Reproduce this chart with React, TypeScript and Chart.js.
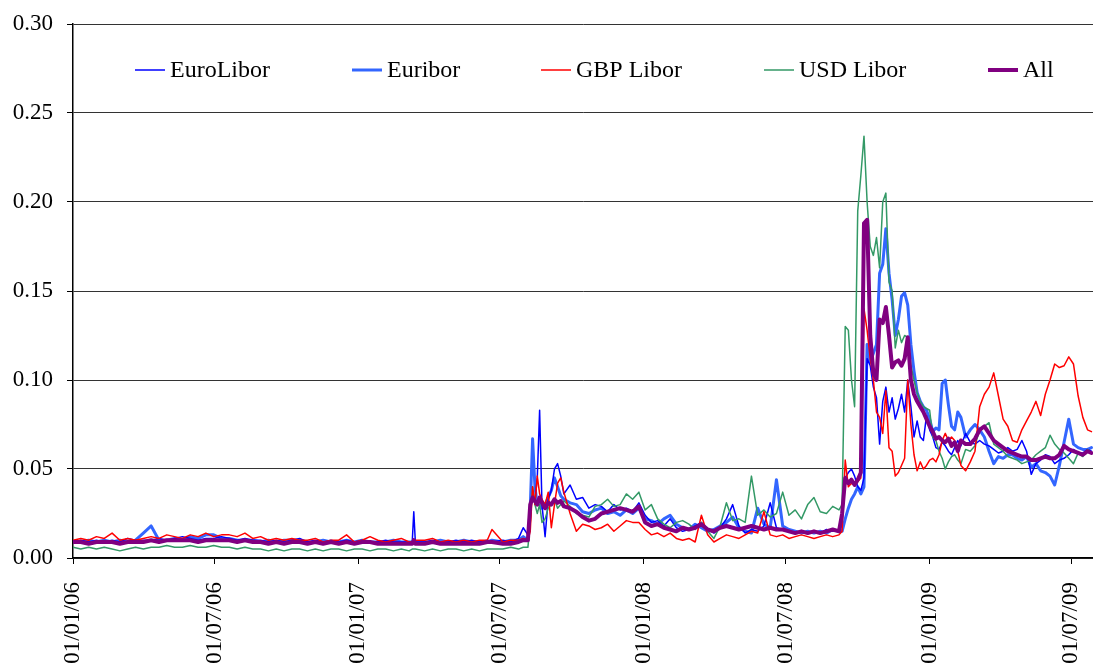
import React, { useEffect, useRef } from "react";
import { Chart, registerables } from "chart.js";

Chart.register(...registerables);

// Observation dates, as days since 01/01/06
const DAY_OFFSETS = [
  0, 10, 20, 30, 40, 50, 60, 70, 80, 90,
  100, 110, 120, 130, 140, 150, 160, 170, 180, 190,
  200, 210, 220, 230, 240, 250, 260, 270, 280, 290,
  300, 310, 320, 330, 340, 350, 360, 370, 380, 390,
  400, 410, 420, 430, 434, 436, 438, 450, 460, 470,
  480, 490, 500, 510, 520, 530, 536, 550, 560, 570,
  576,
  582, 585, 588, 591, 594, 597, 600, 604, 608, 612,
  616, 620, 624, 628, 636, 644, 652, 660, 668, 676,
  684, 692, 700, 708, 716, 724, 732, 740, 748, 756,
  764, 772, 780, 788, 796, 804, 812, 820, 828, 836,
  844, 852, 860, 868, 876, 884, 892, 900, 908, 916,
  924, 932, 940, 948, 956, 964, 972, 980,
  984, 988, 992, 996, 1000, 1004, 1008, 1012, 1016, 1020,
  1024, 1028, 1032, 1036, 1040, 1044, 1048, 1052, 1056, 1060,
  1064, 1068, 1072, 1076, 1080, 1084, 1088, 1092, 1096, 1100,
  1104, 1108, 1112, 1116, 1120, 1124, 1128, 1132, 1136,
  1142, 1148, 1154, 1160, 1166, 1172, 1178, 1184, 1190, 1196,
  1202, 1208, 1214, 1220, 1226, 1232, 1238, 1244, 1250, 1256,
  1262, 1268, 1274, 1280, 1286, 1292, 1298, 1303,
];

const EUROLIBOR = [
  0.009, 0.010, 0.009, 0.010, 0.009, 0.010, 0.009, 0.011, 0.010, 0.010,
  0.010, 0.011, 0.010, 0.011, 0.012, 0.011, 0.010, 0.011, 0.011, 0.012,
  0.011, 0.010, 0.011, 0.010, 0.010, 0.009, 0.010, 0.009, 0.010, 0.011,
  0.009, 0.010, 0.009, 0.010, 0.009, 0.010, 0.009, 0.010, 0.009, 0.009,
  0.010, 0.009, 0.009, 0.009, 0.009, 0.026, 0.009, 0.009, 0.010, 0.009,
  0.009, 0.010, 0.009, 0.010, 0.009, 0.010, 0.009, 0.010, 0.009, 0.011,
  0.017,
  0.013, 0.030, 0.035, 0.032, 0.045, 0.083, 0.030, 0.012, 0.033, 0.038,
  0.050, 0.053, 0.046, 0.036, 0.041, 0.033, 0.034, 0.028, 0.030, 0.029,
  0.026, 0.030, 0.027, 0.028, 0.026, 0.031, 0.024, 0.020, 0.021, 0.018,
  0.022, 0.017, 0.015, 0.016, 0.018, 0.020, 0.016, 0.014, 0.017, 0.022,
  0.030, 0.018, 0.014, 0.016, 0.015, 0.018, 0.031, 0.017, 0.016, 0.015,
  0.014, 0.015, 0.014, 0.015, 0.014, 0.016, 0.015, 0.016,
  0.018, 0.045, 0.048, 0.050, 0.046, 0.040, 0.038, 0.045, 0.112, 0.108,
  0.096, 0.090, 0.064, 0.088, 0.096, 0.082, 0.090, 0.078, 0.084, 0.092,
  0.082, 0.100, 0.085, 0.068, 0.077, 0.068, 0.066, 0.080, 0.072, 0.068,
  0.062, 0.061, 0.065, 0.063, 0.060, 0.058, 0.062, 0.066, 0.063,
  0.070, 0.065, 0.064, 0.066, 0.064, 0.063, 0.061, 0.059, 0.060, 0.062,
  0.060, 0.061, 0.066, 0.060, 0.047, 0.053, 0.055, 0.058, 0.057, 0.053,
  0.055, 0.056, 0.058, 0.061, 0.059, 0.059, 0.061, 0.060,
];

const EURIBOR = [
  0.009, 0.009, 0.010, 0.009, 0.010, 0.009, 0.010, 0.009, 0.010, 0.014,
  0.018, 0.010, 0.010, 0.011, 0.010, 0.012, 0.011, 0.013, 0.013, 0.011,
  0.011, 0.010, 0.010, 0.010, 0.009, 0.010, 0.009, 0.010, 0.010, 0.010,
  0.009, 0.009, 0.010, 0.009, 0.009, 0.010, 0.009, 0.010, 0.009, 0.009,
  0.009, 0.010, 0.009, 0.009, 0.009, 0.009, 0.009, 0.009, 0.009, 0.010,
  0.009, 0.009, 0.010, 0.009, 0.009, 0.009, 0.010, 0.009, 0.010, 0.010,
  0.012,
  0.010, 0.028, 0.067, 0.040, 0.030, 0.034, 0.028, 0.030, 0.034, 0.038,
  0.045, 0.040, 0.035, 0.033, 0.031, 0.030, 0.026, 0.025, 0.027, 0.028,
  0.025, 0.026, 0.024, 0.027, 0.025, 0.028, 0.022, 0.021, 0.019, 0.022,
  0.024, 0.019, 0.017, 0.016, 0.019, 0.017, 0.015, 0.016, 0.018, 0.020,
  0.023, 0.017, 0.015, 0.014, 0.028, 0.019, 0.017, 0.044, 0.018, 0.016,
  0.015, 0.014, 0.015, 0.014, 0.015, 0.014, 0.016, 0.015,
  0.015, 0.022, 0.028, 0.033, 0.036, 0.040, 0.036, 0.040, 0.120, 0.110,
  0.115, 0.120, 0.160, 0.165, 0.185, 0.160, 0.145, 0.125, 0.134, 0.147,
  0.149, 0.142, 0.120, 0.105, 0.093, 0.088, 0.085, 0.083, 0.078, 0.071,
  0.073, 0.072, 0.098, 0.100, 0.086, 0.074, 0.072, 0.082, 0.079,
  0.068, 0.072, 0.075, 0.072, 0.068, 0.060, 0.053, 0.057, 0.056, 0.058,
  0.058, 0.056, 0.055, 0.057, 0.051, 0.053, 0.049, 0.048, 0.046, 0.041,
  0.052, 0.065, 0.078, 0.064, 0.062, 0.061, 0.061, 0.062,
];

const GBP_LIBOR = [
  0.010, 0.011, 0.010, 0.012, 0.011, 0.014, 0.010, 0.011, 0.010, 0.011,
  0.012, 0.011, 0.013, 0.012, 0.011, 0.013, 0.012, 0.014, 0.012, 0.013,
  0.013, 0.012, 0.014, 0.011, 0.012, 0.010, 0.011, 0.010, 0.011, 0.010,
  0.010, 0.011, 0.009, 0.010, 0.010, 0.013, 0.009, 0.010, 0.012, 0.010,
  0.009, 0.010, 0.011, 0.009, 0.009, 0.009, 0.010, 0.010, 0.011, 0.009,
  0.010, 0.009, 0.010, 0.009, 0.010, 0.010, 0.016, 0.009, 0.010, 0.010,
  0.011,
  0.010, 0.015, 0.040, 0.030, 0.046, 0.036, 0.033, 0.030, 0.037, 0.017,
  0.030, 0.042, 0.045, 0.037, 0.025, 0.015, 0.019, 0.018, 0.016, 0.017,
  0.019, 0.015, 0.018, 0.021, 0.020, 0.020, 0.016, 0.013, 0.014, 0.012,
  0.014, 0.011, 0.010, 0.011, 0.009, 0.024, 0.013, 0.009, 0.011, 0.013,
  0.012, 0.011, 0.013, 0.015, 0.014, 0.026, 0.013, 0.012, 0.013, 0.011,
  0.012, 0.013, 0.012, 0.011, 0.012, 0.013, 0.012, 0.013,
  0.015, 0.055, 0.040, 0.042, 0.041, 0.043, 0.045, 0.140, 0.128, 0.112,
  0.100, 0.082, 0.079, 0.070, 0.094, 0.062, 0.060, 0.046, 0.048, 0.052,
  0.056, 0.100, 0.075, 0.058, 0.049, 0.054, 0.050, 0.052, 0.055, 0.056,
  0.054, 0.058, 0.066, 0.070, 0.066, 0.068, 0.066, 0.060, 0.052,
  0.049, 0.054, 0.060, 0.085, 0.092, 0.096, 0.104, 0.091, 0.078, 0.074,
  0.066, 0.065, 0.072, 0.077, 0.082, 0.088, 0.080, 0.092, 0.100, 0.109,
  0.107, 0.108, 0.113, 0.109, 0.091, 0.079, 0.072, 0.071,
];

const USD_LIBOR = [
  0.006, 0.005, 0.006, 0.005, 0.006, 0.005, 0.004, 0.005, 0.006, 0.005,
  0.006, 0.006, 0.007, 0.006, 0.006, 0.007, 0.006, 0.006, 0.007, 0.006,
  0.006, 0.005, 0.006, 0.005, 0.005, 0.004, 0.005, 0.004, 0.005, 0.005,
  0.004, 0.005, 0.004, 0.005, 0.005, 0.004, 0.005, 0.005, 0.004, 0.005,
  0.005, 0.004, 0.005, 0.004, 0.005, 0.005, 0.005, 0.004, 0.005, 0.004,
  0.005, 0.005, 0.004, 0.005, 0.004, 0.005, 0.005, 0.005, 0.006, 0.005,
  0.006,
  0.006, 0.020, 0.040, 0.030, 0.025, 0.030, 0.020, 0.022, 0.028, 0.030,
  0.033, 0.028, 0.030, 0.032, 0.029, 0.025, 0.024, 0.023, 0.029, 0.030,
  0.033, 0.029, 0.030, 0.036, 0.033, 0.037, 0.027, 0.030, 0.022, 0.019,
  0.017, 0.020, 0.021, 0.019, 0.016, 0.020, 0.015, 0.011, 0.018, 0.031,
  0.021, 0.022, 0.020, 0.046, 0.024, 0.027, 0.023, 0.025, 0.037, 0.024,
  0.027, 0.022, 0.030, 0.034, 0.026, 0.025, 0.029, 0.027,
  0.030, 0.130, 0.128, 0.100, 0.085, 0.195, 0.215, 0.237, 0.200, 0.175,
  0.170, 0.180, 0.163, 0.200, 0.205, 0.155, 0.150, 0.118, 0.128, 0.121,
  0.125, 0.124, 0.108, 0.100, 0.093, 0.088, 0.085, 0.084, 0.083, 0.068,
  0.066, 0.060, 0.056, 0.050, 0.054, 0.057, 0.058, 0.055, 0.053,
  0.061, 0.060, 0.063, 0.072, 0.074, 0.076, 0.064, 0.062, 0.060, 0.057,
  0.056, 0.055, 0.053, 0.054, 0.055, 0.058, 0.060, 0.062, 0.069, 0.064,
  0.061, 0.059, 0.056, 0.053, 0.059, 0.057, 0.061, 0.059,
];

const ALL = [
  0.009, 0.009, 0.008, 0.009, 0.009, 0.009, 0.008, 0.009, 0.009, 0.009,
  0.010, 0.009, 0.010, 0.010, 0.010, 0.010, 0.009, 0.010, 0.010, 0.010,
  0.010, 0.009, 0.010, 0.009, 0.009, 0.008, 0.009, 0.008, 0.009, 0.009,
  0.008, 0.009, 0.008, 0.009, 0.008, 0.009, 0.008, 0.009, 0.009, 0.008,
  0.008, 0.008, 0.008, 0.008, 0.008, 0.010, 0.008, 0.008, 0.009, 0.008,
  0.008, 0.008, 0.008, 0.008, 0.008, 0.009, 0.009, 0.008, 0.008, 0.009,
  0.010,
  0.010, 0.030, 0.034, 0.032, 0.030, 0.034, 0.031, 0.028, 0.031, 0.030,
  0.033, 0.031, 0.032, 0.029, 0.028, 0.026, 0.023, 0.021, 0.022, 0.025,
  0.026, 0.027, 0.028, 0.027, 0.026, 0.029, 0.020, 0.018, 0.019, 0.017,
  0.016, 0.015, 0.017, 0.016, 0.017, 0.019, 0.016, 0.015, 0.017, 0.018,
  0.017, 0.016, 0.017, 0.018, 0.017, 0.016, 0.017, 0.016, 0.016, 0.015,
  0.014, 0.015, 0.014, 0.015, 0.014, 0.015, 0.016, 0.015,
  0.025, 0.045, 0.042, 0.044, 0.041, 0.044, 0.048, 0.188, 0.190, 0.125,
  0.104, 0.100, 0.134, 0.132, 0.141, 0.125, 0.107, 0.110, 0.111, 0.108,
  0.112, 0.124, 0.100, 0.092, 0.088, 0.085, 0.082, 0.078, 0.074, 0.071,
  0.067, 0.068, 0.066, 0.065, 0.067, 0.063, 0.065, 0.060, 0.066,
  0.064, 0.064, 0.067, 0.072, 0.074, 0.070, 0.066, 0.064, 0.062, 0.060,
  0.059, 0.058, 0.057, 0.057, 0.055, 0.055, 0.056, 0.057, 0.056, 0.056,
  0.058, 0.063, 0.061, 0.060, 0.059, 0.058, 0.060, 0.059,
];

const TICK_DAYS = [0, 181, 365, 546, 730, 912, 1096, 1277];
const TICK_LABELS = ["01/01/06", "01/07/06", "01/01/07", "01/07/07", "01/01/08", "01/07/08", "01/01/09", "01/07/09"];
const Y_TICKS = [0, 0.05, 0.1, 0.15, 0.2, 0.25, 0.3];

const SERIES_NAMES = ["EuroLibor", "Euribor", "GBP Libor", "USD Libor", "All"];
const SERIES_VALUES = [EUROLIBOR, EURIBOR, GBP_LIBOR, USD_LIBOR, ALL];
const SERIES_COLORS = ["#0000FF", "#3366FF", "#FF0000", "#339966", "#800080"];
const SERIES_WIDTHS = [1.5, 3, 1.5, 1.5, 4];
const SERIES_ORDER = [3, 4, 1, 2, 0];
const LEGEND_X = [135, 352, 541, 764, 988];

const FONT = "'Liberation Serif', 'Times New Roman', serif";

const legendPlugin = {
  id: "inlineLegend",
  afterDraw(chart: any) {
    const ctx = chart.ctx;
    ctx.save();
    ctx.font = `24px ${FONT}`;
    ctx.textBaseline = "middle";
    ctx.textAlign = "left";
    ctx.fillStyle = "#000";
    chart.data.datasets.forEach((ds: any, i: number) => {
      const x = LEGEND_X[i];
      const y = 70;
      ctx.strokeStyle = ds.borderColor;
      ctx.lineWidth = ds.borderWidth;
      ctx.beginPath();
      ctx.moveTo(x, y);
      ctx.lineTo(x + 30, y);
      ctx.stroke();
      ctx.fillText(ds.label, x + 35, y + 1);
    });
    ctx.restore();
  },
};

export default function App() {
  const ref = useRef<HTMLCanvasElement | null>(null);

  useEffect(() => {
    document.body.style.margin = "0";
    if (!ref.current) return;
    const datasets = SERIES_NAMES.map((name, i) => ({
      label: name,
      data: DAY_OFFSETS.map((d, j) => ({ x: d, y: SERIES_VALUES[i][j] })),
      borderColor: SERIES_COLORS[i],
      backgroundColor: SERIES_COLORS[i],
      borderWidth: SERIES_WIDTHS[i],
      order: SERIES_ORDER[i],
      pointRadius: 0,
      tension: 0,
      borderJoinStyle: "round" as const,
      borderCapStyle: "round" as const,
      fill: false,
    }));

    const chart = new Chart(ref.current, {
      type: "line",
      data: { datasets },
      options: {
        animation: false,
        responsive: false,
        events: [],
        layout: { padding: { top: 24, right: 0, left: 0, bottom: 0 } },
        plugins: { legend: { display: false }, tooltip: { enabled: false } },
        scales: {
          x: {
            type: "linear",
            min: 0,
            max: 1305,
            afterBuildTicks: (s: any) => {
              s.ticks = TICK_DAYS.map((v) => ({ value: v }));
            },
            afterFit: (s: any) => {
              s.height = 106;
              s.paddingLeft = 0;
              s.paddingRight = 0;
              s.paddingTop = 0;
              s.paddingBottom = 0;
            },
            ticks: {
              autoSkip: false,
              maxRotation: 90,
              minRotation: 90,
              padding: 18,
              color: "#000",
              font: { family: FONT, size: 23 },
              callback: (v: any) => {
                const k = TICK_DAYS.indexOf(Number(v));
                return k >= 0 ? TICK_LABELS[k] : "";
              },
            },
            grid: { drawOnChartArea: false, drawTicks: true, tickLength: 6, tickColor: "#000" },
            border: { color: "#000", width: 1.5 },
          },
          y: {
            min: 0,
            max: 0.3,
            afterBuildTicks: (s: any) => {
              s.ticks = Y_TICKS.map((v) => ({ value: v }));
            },
            afterFit: (s: any) => {
              s.width = 73;
              s.paddingTop = 0;
              s.paddingBottom = 0;
              s.paddingLeft = 0;
              s.paddingRight = 0;
            },
            ticks: {
              padding: 14,
              color: "#000",
              font: { family: FONT, size: 23 },
              callback: (v: any) => Number(v).toFixed(2),
            },
            grid: { color: "#333", lineWidth: 1, drawTicks: true, tickLength: 6, tickColor: "#000" },
            border: { color: "#000", width: 1.5 },
          },
        },
      },
      plugins: [legendPlugin],
    });
    return () => chart.destroy();
  }, []);

  return (
    <div style={{ width: 1093, height: 664 }}>
      <canvas ref={ref} width={1093} height={664} style={{ display: "block" }} />
    </div>
  );
}
